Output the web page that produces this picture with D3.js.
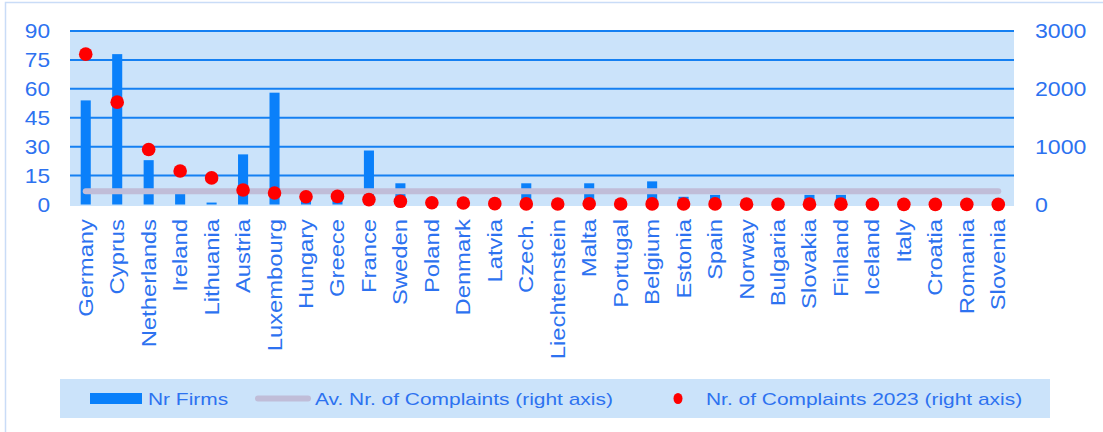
<!DOCTYPE html>
<html>
<head>
<meta charset="utf-8">
<script src="https://cdn.jsdelivr.net/npm/d3@7"></script>
<style>
  html, body { margin: 0; padding: 0; background: #ffffff; }
  svg { display: block; font-family: "Liberation Sans", Arial, sans-serif; }
</style>
</head>
<body>
<svg id="chart" width="1103" height="432"></svg>
<script>
// ---- data ----
const categories = ["Germany","Cyprus","Netherlands","Ireland","Lithuania","Austria","Luxembourg","Hungary","Greece","France","Sweden","Poland","Denmark","Latvia","Czech.","Liechtenstein","Malta","Portugal","Belgium","Estonia","Spain","Norway","Bulgaria","Slovakia","Finland","Iceland","Italy","Croatia","Romania","Slovenia"];
const nrFirms = [54,78,23,8,1,26,58,4,4,28,11,2,2,3,11,1,11,2,12,4,5,2,1,5,5,1,2,1,1,1];
const complaints2023 = [2600,1770,950,580,460,250,200,135,140,85,55,30,25,15,10,8,12,8,10,8,10,6,4,6,6,4,3,3,3,2];
const avgComplaints = categories.map(() => 230);
const leftTicks = [0,15,30,45,60,75,90];
const rightTicks = [0,1000,2000,3000];
const legendLabels = ["Nr Firms","Av. Nr. of Complaints (right axis)","Nr. of Complaints 2023 (right axis)"];

// ---- layout ----
const W = 1103, H = 432;
const plot = { left: 70, right: 1014, top: 31, bottom: 204.5 };
const textColor = "#2d72f0";
const barColor = "#0a80fa";
const bgColor = "#cbe3fa";
const gridColor = "#1580f2";
const avgColor = "#c0bdd8";
const dotColor = "#ff0000";

const svg = d3.select("#chart");

// outer border
svg.append("rect").attr("x",5.5).attr("y",2.5).attr("width",1110).attr("height",440)
  .attr("fill","none").attr("stroke","#c9dcf7").attr("stroke-width",1.5);

const x = d3.scaleBand().domain(categories).range([plot.left, plot.right])
  .paddingInner(0.68).paddingOuter(0.34);
const yL = d3.scaleLinear().domain([0,90]).range([plot.bottom, plot.top]);
const yR = d3.scaleLinear().domain([0,3000]).range([plot.bottom, plot.top]);
const cx = d => x(d) + x.bandwidth()/2;

function stretch(sel, factor) {
  sel.each(function() {
    const len = this.getComputedTextLength();
    d3.select(this).attr("textLength", len * factor).attr("lengthAdjust", "spacingAndGlyphs");
  });
}

// plot background
svg.append("rect").attr("x",plot.left).attr("y",plot.top - 1)
  .attr("width",plot.right - plot.left).attr("height",plot.bottom - plot.top + 2.5)
  .attr("fill",bgColor);

// gridlines
svg.append("g").selectAll("line").data(leftTicks.filter(t => t > 0)).join("line")
  .attr("x1",plot.left).attr("x2",plot.right)
  .attr("y1",d => yL(d)).attr("y2",d => yL(d))
  .attr("stroke",gridColor).attr("stroke-width",2);

// left axis
const axL = svg.append("g").attr("transform",`translate(${plot.left - 20},0)`)
  .call(d3.axisLeft(yL).tickValues(leftTicks).tickSize(0).tickPadding(0));
axL.select(".domain").remove();
axL.selectAll("text").attr("fill",textColor).style("font-size","21px")
  .attr("font-family","Liberation Sans, Arial, sans-serif");
stretch(axL.selectAll("text"), 1.08);

// right axis
const axR = svg.append("g").attr("transform",`translate(${plot.right + 21},0)`)
  .call(d3.axisRight(yR).tickValues(rightTicks).tickSize(0).tickPadding(0).tickFormat(d3.format("d")));
axR.select(".domain").remove();
axR.selectAll("text").attr("fill",textColor).style("font-size","21px")
  .attr("font-family","Liberation Sans, Arial, sans-serif");
stretch(axR.selectAll("text"), 1.1);

// bars
svg.append("g").selectAll("rect").data(categories).join("rect")
  .attr("x",d => x(d)).attr("width",x.bandwidth())
  .attr("y",(d,i) => yL(nrFirms[i]))
  .attr("height",(d,i) => yL(0) - yL(nrFirms[i]))
  .attr("fill",barColor);

// average line
const line = d3.line().x((d,i) => cx(categories[i])).y(d => yR(d));
svg.append("path").datum(avgComplaints).attr("d",line)
  .attr("fill","none").attr("stroke",avgColor).attr("stroke-width",6)
  .attr("stroke-linecap","round");

// dots
svg.append("g").selectAll("circle").data(categories).join("circle")
  .attr("cx",d => cx(d)).attr("cy",(d,i) => yR(complaints2023[i]))
  .attr("r",6.8).attr("fill",dotColor);

// category labels
const cl = svg.append("g").selectAll("text").data(categories).join("text")
  .attr("transform",d => `translate(${cx(d)},219) rotate(-90)`)
  .attr("text-anchor","end").attr("dy","0.35em")
  .attr("fill",textColor).style("font-size","20px")
  .text(d => d);
stretch(cl, 1.19);

// legend
const lg = svg.append("g");
lg.append("rect").attr("x",60).attr("y",379).attr("width",990).attr("height",39).attr("fill",bgColor);
lg.append("rect").attr("x",90).attr("y",393).attr("width",52).attr("height",11).attr("fill",barColor);
lg.append("line").attr("x1",258).attr("x2",308).attr("y1",398.5).attr("y2",398.5)
  .attr("stroke",avgColor).attr("stroke-width",6).attr("stroke-linecap","round");
lg.append("ellipse").attr("cx",678).attr("cy",398.5).attr("rx",4.5).attr("ry",5.5).attr("fill",dotColor);
const lx = [148, 315, 706];
const lt = lg.selectAll("text.lg").data(legendLabels).join("text").attr("class","lg")
  .attr("x",(d,i) => lx[i]).attr("y",405)
  .attr("fill",textColor).style("font-size","17px")
  .text(d => d);
stretch(lt, 1.23);
</script>
</body>
</html>
